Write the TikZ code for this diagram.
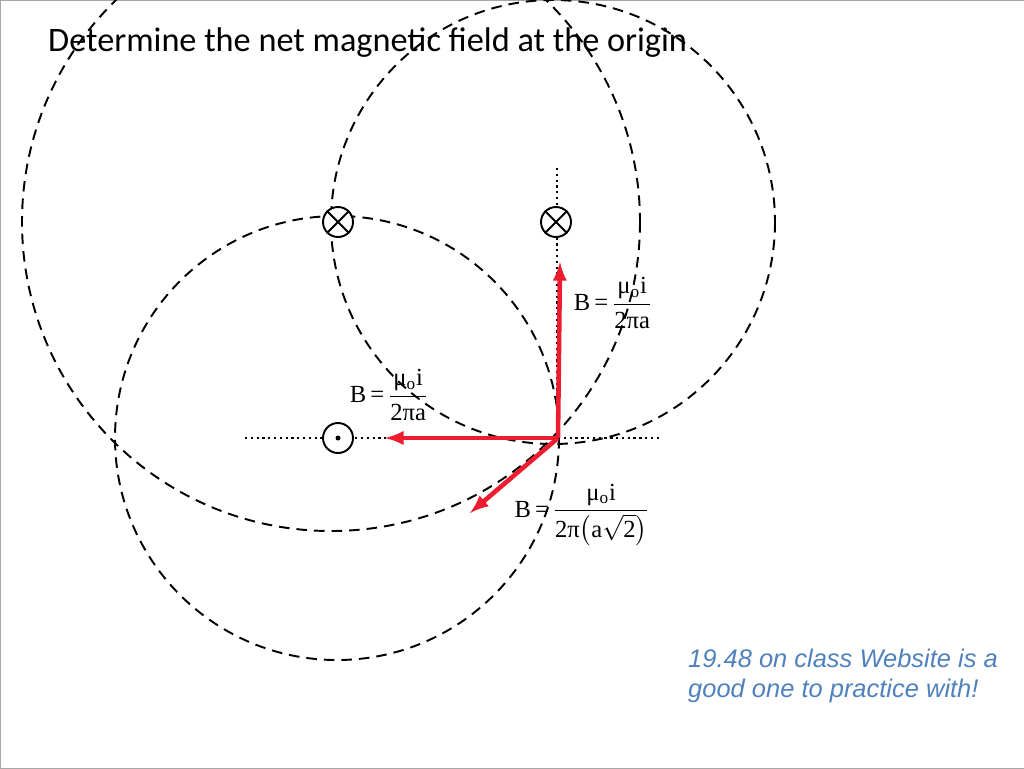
\documentclass[tikz,border=0pt]{standalone}
\usepackage{amsmath}
\usepackage{fontspec}
\setmainfont{Carlito}
\newfontfamily\notefont{Liberation Sans}
\newfontfamily\eqfont{Liberation Serif}
\newcommand{\rmtxt}[1]{\mbox{\eqfont #1}}
\definecolor{arrowred}{RGB}{237,28,46}
\definecolor{noteblue}{RGB}{79,129,189}
\begin{document}
\begin{tikzpicture}[x=0.02cm,y=-0.02cm,
  field/.style={dashed,line width=1.1pt,dash pattern=on 6pt off 4pt},
  wire/.style={circle,draw,line width=1.1pt,minimum size=30*0.02cm,inner sep=0pt},
  axisline/.style={dotted,line width=1.3pt},
  bvec/.style={-latex,arrowred,line width=2.6pt},
  eq/.style={font=\eqfont\fontsize{14}{16}\selectfont}]
\path[use as bounding box] (0,0) rectangle (1024,768);
\draw[gray!70] (0,0) rectangle (1024,768);
\node[anchor=west,font=\fontsize{19.5}{22}\selectfont] (title) at (42,43) {Determine the net magnetic field at the origin};
% field circles
\begin{scope}
\clip (0,0) rectangle (1024,768);
\draw[field] (331,222) circle (309);
\draw[field] (553,222) circle (222);
\draw[field] (337,438) circle (222);
\end{scope}
% axes
\coordinate (origin) at (558,438);
\draw[axisline] (557,168) -- (557,438);
\draw[axisline] (245,438) -- (660,438);
% wires
\node[wire,fill=white] (w1) at (338,222) {};
\draw[line width=1.1pt] (w1.45) -- (w1.225) (w1.135) -- (w1.315);
\node[wire,fill=white] (w2) at (556,222) {};
\draw[line width=1.1pt] (w2.45) -- (w2.225) (w2.135) -- (w2.315);
\node[wire,fill=white] (w3) at (338,438) {};
\fill (w3) circle (2.5);
% field vectors
\coordinate (up) at (560,262);
\coordinate (left) at (385,438);
\coordinate (diag) at (470,513);
\draw[bvec] (origin) -- (up);
\draw[bvec] (origin) -- (left);
\draw[bvec] (origin) -- (diag);
% labels
\node[eq] (b1) at (613,303) {B\,=\,$\dfrac{\rmtxt{μ\textsubscript{o}i}}{\rmtxt{2πa}}$};
\node[eq] (b2) at (389,395) {B\,=\,$\dfrac{\rmtxt{μ\textsubscript{o}i}}{\rmtxt{2πa}}$};
\node[eq] (b3) at (582,515) {B\,=\,$\dfrac{\rmtxt{μ\textsubscript{o}i}}{\rmtxt{2π}\big(\rmtxt{a}\sqrt{\rmtxt{2}}\big)}$};
\node[anchor=north west,align=left,text=noteblue,font=\notefont\itshape\fontsize{14.5}{17}\selectfont] (note) at (682,643) {19.48 on class Website is a\\good one to practice with!};
\end{tikzpicture}
\end{document}
